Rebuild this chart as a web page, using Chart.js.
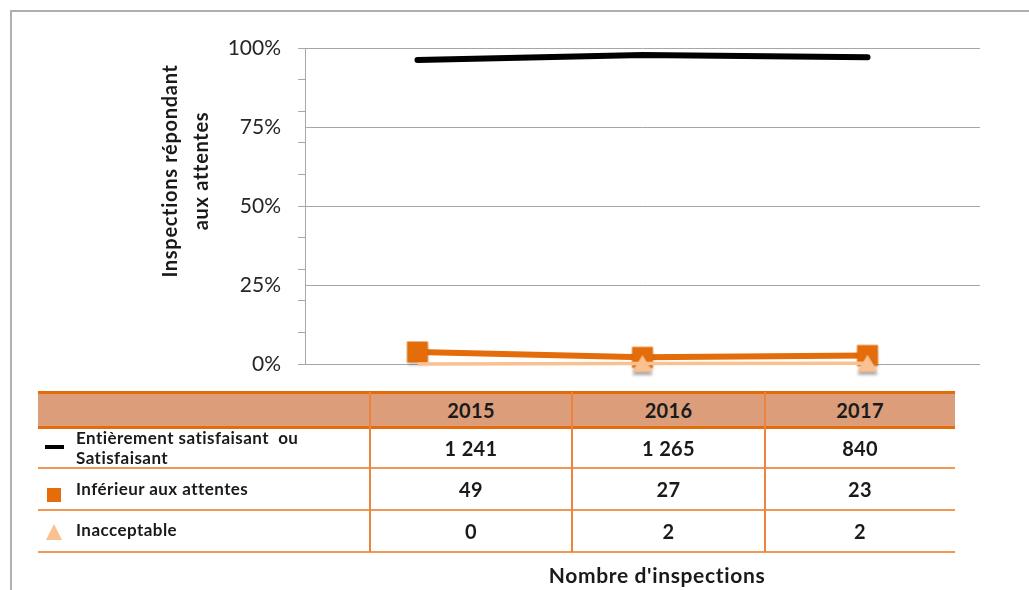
<!DOCTYPE html>
<html>
<head>
<meta charset="utf-8">
<script src="https://cdn.jsdelivr.net/npm/chart.js@4.4.0/dist/chart.umd.min.js"></script>
<style>
  html, body { margin: 0; padding: 0; background: #fff; }
  #wrap { position: relative; width: 1029px; height: 590px; overflow: hidden; font-family: Lato, "Noto Sans", sans-serif; color: #1a1a1a; }
  #frame { position: absolute; left: 10px; top: 10px; width: 1100px; height: 700px; border-left: 2px solid #B0B0B0; border-top: 2px solid #B0B0B0; }
  #c { position: absolute; left: 0; top: 0; }
  .ytitle { position: absolute; font-weight: bold; font-size: 20px; letter-spacing: 0.7px; white-space: nowrap; transform: translate(-50%, -50%) rotate(-90deg); }
  .cell { position: absolute; box-sizing: border-box; display: flex; align-items: center; justify-content: center; font-weight: bold; font-size: 20px; letter-spacing: 0.3px; }
  .hline { position: absolute; }
  .vline { position: absolute; background: #EC8440; width: 2px; }
  .lab { position: absolute; font-weight: bold; font-size: 17px; letter-spacing: 0.45px; line-height: 20px; }
  #xtitle { position: absolute; left: 657px; top: 574px; transform: translate(-50%, -50%); font-weight: bold; font-size: 21px; letter-spacing: 0.65px; white-space: nowrap; }
</style>
</head>
<body>
<div id="wrap">
  <div id="frame"></div>
  <canvas id="c" width="1029" height="590"></canvas>
  <div class="ytitle" style="left:169px; top:171px;">Inspections répondant</div>
  <div class="ytitle" style="left:200px; top:171px;">aux attentes</div>
  <div id="table"></div>
  <div id="xtitle">Nombre d'inspections</div>
</div>
<script>
// ---- Data ----
const years = ['2015', '2016', '2017'];
const seriesNames = ['Entièrement satisfaisant ou Satisfaisant', 'Inférieur aux attentes', 'Inacceptable'];
const satisfaisantCounts = ['1 241', '1 265', '840'];
const inferieurCounts = ['49', '27', '23'];
const inacceptableCounts = ['0', '2', '2'];
const satisfaisantPct = [96.2, 97.8, 97.1];
const inferieurPct = [3.8, 2.1, 2.7];
const inacceptablePct = [0, 0.15, 0.23];
const yMajorTicks = [0, 25, 50, 75, 100];

const BLACK = '#000000';
const ORANGE = '#E46C0A';
const PEACH = '#FAC090';

// marker images (centered on their point)
function makeMarker(kind) {
  const cv = document.createElement('canvas');
  cv.width = 30; cv.height = 32;
  const g = cv.getContext('2d');
  g.shadowColor = 'rgba(0,0,0,0.35)';
  g.shadowOffsetY = 3; g.shadowBlur = 3;
  if (kind === 'tri') {
    g.fillStyle = PEACH;
    g.beginPath();
    g.moveTo(15, 7.5); g.lineTo(25.5, 24.5); g.lineTo(4.5, 24.5); g.closePath();
    g.fill();
  } else {
    g.shadowColor = 'rgba(0,0,0,0.2)';
    g.fillStyle = ORANGE;
    g.fillRect(4.5, 5.5, 21, 21);
  }
  return cv;
}
const triMarker = makeMarker('tri');
const sqMarker = makeMarker('sq');

new Chart(document.getElementById('c'), {
  type: 'line',
  data: {
    labels: years,
    datasets: [
      { label: seriesNames[2], data: inacceptablePct, borderColor: PEACH, backgroundColor: PEACH, borderWidth: 3.5,
        pointStyle: triMarker, pointRadius: (ctx) => (ctx.dataIndex === 0 ? 0 : 12), pointHoverRadius: 12,
        order: 0, tension: 0, clip: false },
      { label: seriesNames[1], data: inferieurPct, borderColor: ORANGE, backgroundColor: ORANGE, borderWidth: 6,
        pointStyle: sqMarker, pointRadius: 12, pointHoverRadius: 12, order: 1, tension: 0, clip: false },
      { label: seriesNames[0], data: satisfaisantPct, borderColor: BLACK, backgroundColor: BLACK, borderWidth: 6,
        pointRadius: 0, pointHoverRadius: 0, borderCapStyle: 'round', order: 2, tension: 0, clip: false }
    ]
  },
  options: {
    responsive: false,
    devicePixelRatio: 1,
    animation: false,
    layout: { padding: { left: 0, right: 49, top: 48, bottom: 226 } },
    plugins: { legend: { display: false }, tooltip: { enabled: false } },
    scales: {
      x: { display: false, offset: true },
      y: {
        position: 'left', weight: 1, min: 0, max: 100,
        afterBuildTicks: (axis) => { axis.ticks = yMajorTicks.map(v => ({ value: v })); },
        afterFit: (axis) => { axis.width = 298; },
        grid: { color: '#A6A6A6', lineWidth: 1, drawTicks: false },
        border: { display: false },
        ticks: { padding: 17, color: '#262626', font: { family: 'Lato', size: 21 }, callback: (v) => v + '%' }
      },
      y2: {
        position: 'left', weight: 0, min: 0, max: 100,
        ticks: { stepSize: 10, display: false },
        afterFit: (axis) => { axis.width = 7; },
        grid: { drawOnChartArea: false, drawTicks: true, tickLength: 7, color: '#A6A6A6' },
        border: { display: true, color: '#A6A6A6', width: 1 }
      }
    }
  }
});

// ---- Table (built from the data arrays) ----
const table = document.getElementById('table');
const colEdges = [38, 370, 572, 765, 955];
const rowEdges = [392, 427, 468, 510, 552];
const rows = [satisfaisantCounts, inferieurCounts, inacceptableCounts];
function add(cls, style, html) {
  const d = document.createElement('div');
  d.className = cls; Object.assign(d.style, style); if (html !== undefined) d.innerHTML = html;
  table.appendChild(d); return d;
}
// header fill
add('hline', { left: colEdges[0] + 'px', top: rowEdges[0] + 'px', width: (colEdges[4] - colEdges[0]) + 'px',
  height: (rowEdges[1] - rowEdges[0]) + 'px', background: '#DC9D7B' });
// header text
years.forEach((y, i) => {
  add('cell', { left: colEdges[i + 1] + 'px', top: rowEdges[0] + 'px', width: (colEdges[i + 2] - colEdges[i + 1]) + 'px',
    height: (rowEdges[1] - rowEdges[0]) + 'px' }, y);
});
// values
rows.forEach((r, ri) => {
  r.forEach((v, ci) => {
    add('cell', { left: colEdges[ci + 1] + 'px', top: rowEdges[ri + 1] + 'px', width: (colEdges[ci + 2] - colEdges[ci + 1]) + 'px',
      height: (rowEdges[ri + 2] - rowEdges[ri + 1]) + 'px' }, v);
  });
});
// row labels
add('lab', { left: '76px', top: '428px' }, 'Entièrement satisfaisant&nbsp; ou<br>Satisfaisant');
add('lab', { left: '76px', top: '479px' }, seriesNames[1]);
add('lab', { left: '76px', top: '520px' }, seriesNames[2]);
// legend markers
add('hline', { left: '45px', top: '445px', width: '19px', height: '4px', background: BLACK });
add('hline', { left: '47px', top: '488px', width: '14px', height: '14px', background: ORANGE });
add('hline', { left: '46px', top: '524px', width: '0', height: '0', borderLeft: '8.5px solid transparent',
  borderRight: '8.5px solid transparent', borderBottom: '16px solid ' + PEACH });
// horizontal lines
rowEdges.forEach((y, i) => {
  const dark = i < 2;
  add('hline', { left: colEdges[0] + 'px', top: (y - (dark ? 1.5 : 1)) + 'px', width: (colEdges[4] - colEdges[0]) + 'px',
    height: (dark ? 3 : 2) + 'px', background: dark ? '#E46C0A' : '#F09858' });
});
// vertical lines
[1, 2, 3].forEach(i => {
  add('vline', { left: (colEdges[i] - 1) + 'px', top: rowEdges[0] + 'px', height: (rowEdges[4] - rowEdges[0]) + 'px' });
});
</script>
</body>
</html>
